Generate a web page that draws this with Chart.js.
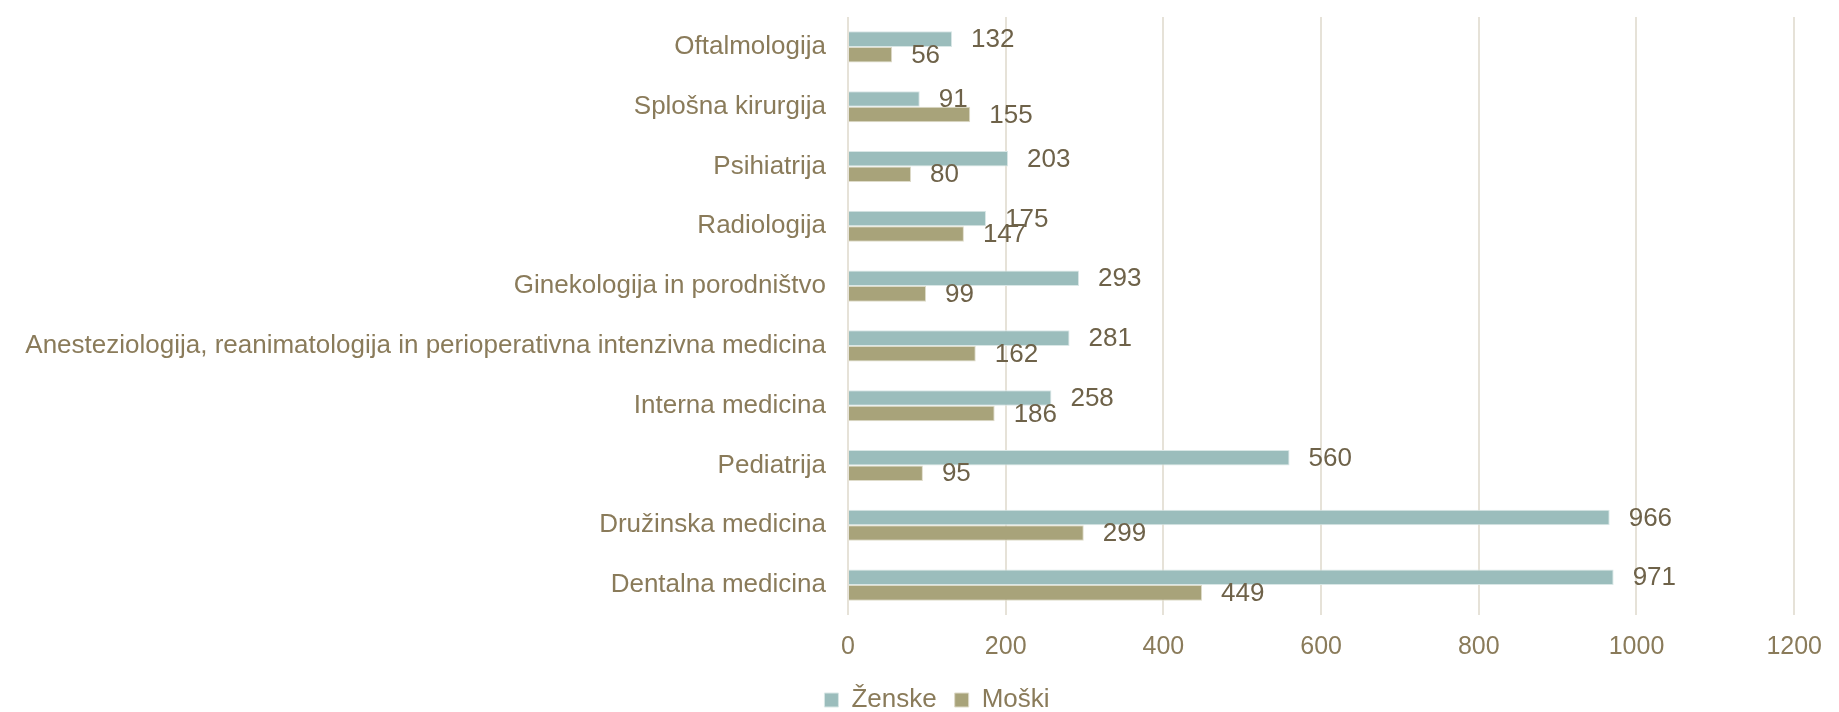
<!DOCTYPE html>
<html>
<head>
<meta charset="utf-8">
<script src="https://cdn.jsdelivr.net/npm/chart.js@4/dist/chart.umd.min.js"></script>
<style>
  body { margin: 0; background: #fff; }
  #wrap { width: 1839px; height: 712px; }
</style>
</head>
<body>
<div id="wrap"><canvas id="specChart" width="1839" height="712"></canvas></div>
<script>
// Specializacije - ženske / moški
const categories = [
    'Oftalmologija',
    'Splošna kirurgija',
    'Psihiatrija',
    'Radiologija',
    'Ginekologija in porodništvo',
    'Anesteziologija, reanimatologija in perioperativna intenzivna medicina',
    'Interna medicina',
    'Pediatrija',
    'Družinska medicina',
    'Dentalna medicina'
];
const zenske = [132, 91, 203, 175, 293, 281, 258, 560, 966, 971];
const moski = [56, 155, 80, 147, 99, 162, 186, 95, 299, 449];
const xTicks = [0, 200, 400, 600, 800, 1000, 1200];

const labelColor = '#8a7b5a';
const valueColor = '#6e6249';
const fontFamily = '"Liberation Sans", Arial, sans-serif';

// izpis vrednosti desno od stolpcev
const valueLabels = {
    id: 'valueLabels',
    afterDatasetsDraw(chart) {
        const ctx = chart.ctx;
        ctx.save();
        ctx.font = '26px ' + fontFamily;
        ctx.fillStyle = valueColor;
        ctx.textAlign = 'left';
        ctx.textBaseline = 'middle';
        chart.data.datasets.forEach((ds, i) => {
            chart.getDatasetMeta(i).data.forEach((bar, j) => {
                ctx.fillText(ds.data[j], bar.x + 19, bar.y + 1);
            });
        });
        ctx.restore();
    }
};

// legenda malo bolj desno (kot v originalu)
const legendShift = {
    id: 'legendShift',
    afterLayout(chart) {
        if (chart.legend) chart.legend.left += 68;
    }
};

const ctx = document.getElementById('specChart').getContext('2d');
const specChart = new Chart(ctx, {
    type: 'bar',
    data: {
        labels: categories,
        datasets: [{
            label: 'Ženske',
            data: zenske,
            backgroundColor: '#9bbdbc',
            borderColor: '#d9e7e6',
            borderWidth: 1,
            barPercentage: 1,
            categoryPercentage: 0.52
        }, {
            label: 'Moški',
            data: moski,
            backgroundColor: '#a8a37a',
            borderColor: '#dedbc9',
            borderWidth: 1,
            barPercentage: 1,
            categoryPercentage: 0.52
        }]
    },
    options: {
        indexAxis: 'y',
        responsive: false,
        animation: false,
        layout: { padding: { top: 17, right: 33, left: 0, bottom: -11 } },
        scales: {
            x: {
                min: 0,
                max: 1200,
                afterBuildTicks: scale => { scale.ticks = xTicks.map(v => ({ value: v })); },
                afterFit: scale => { scale.height = 54; },
                grid: { color: '#e6e2d8', lineWidth: 2, drawTicks: false },
                border: { display: false },
                ticks: {
                    padding: 17,
                    color: labelColor,
                    font: { family: fontFamily, size: 25 },
                    callback: v => String(v)
                }
            },
            y: {
                afterFit: scale => {
                    scale.width = 848;
                    scale.paddingTop = 0;
                    scale.paddingBottom = 0;
                },
                grid: { display: false, drawTicks: false },
                border: { display: false },
                ticks: {
                    padding: 22,
                    color: labelColor,
                    font: { family: fontFamily, size: 26 }
                }
            }
        },
        plugins: {
            legend: {
                position: 'bottom',
                labels: {
                    boxWidth: 14,
                    boxHeight: 14,
                    padding: 18,
                    color: labelColor,
                    font: { family: fontFamily, size: 26 }
                }
            },
            tooltip: { enabled: false }
        }
    },
    plugins: [valueLabels, legendShift]
});
</script>
</body>
</html>
